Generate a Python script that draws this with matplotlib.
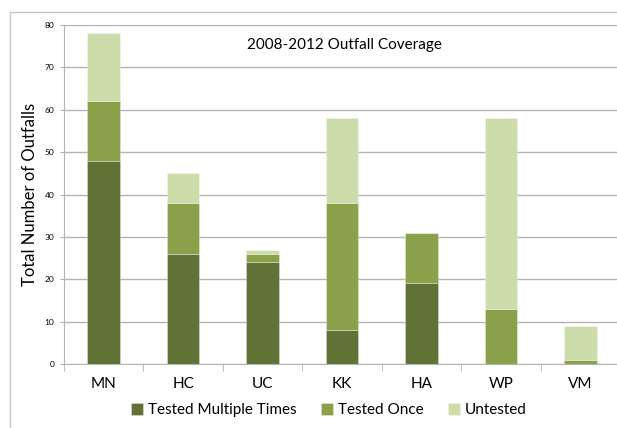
import numpy as np
import matplotlib
matplotlib.use("Agg")
import matplotlib.pyplot as plt
from matplotlib.patches import Rectangle

plt.rcParams['font.family'] = ['Lato', 'DejaVu Sans']

# outfall counts per watershed
sites = ['MN', 'HC', 'UC', 'KK', 'HA', 'WP', 'VM']
tested_multiple = [48, 26, 24, 8, 19, 0, 0]
tested_once = [14, 12, 2, 30, 12, 13, 1]
untested = [16, 7, 1, 20, 0, 45, 8]

c_multi = '#607236'
c_once = '#8aa04b'
c_untested = '#ccdcab'
grid_c = '#b4b4b4'
edge = (1, 1, 1, 0.35)

fig = plt.figure(figsize=(6.17, 4.28), dpi=100)

# outer chart frame (runs off the right and bottom edges)
fig.patches.append(Rectangle((10 / 617, -0.1), 1.2, 1 - 12 / 428 + 0.1,
                             transform=fig.transFigure, fill=False,
                             edgecolor='#c8c8c8', linewidth=1.0))

ax = fig.add_axes([64 / 617, 1 - 364 / 428, 556 / 617, 339 / 428])

x = np.arange(len(sites))
w = 0.41
m = np.array(tested_multiple)
o = np.array(tested_once)
u = np.array(untested)
ax.bar(x, m, w, color=c_multi, edgecolor=edge, linewidth=0.6,
       label='Tested Multiple Times', zorder=3)
ax.bar(x, o, w, bottom=m, color=c_once, edgecolor=edge, linewidth=0.6,
       label='Tested Once', zorder=3)
ax.bar(x, u, w, bottom=m + o, color=c_untested, edgecolor=edge, linewidth=0.6,
       label='Untested', zorder=3)

ax.set_xlim(-0.5, len(sites) - 0.5)
ax.set_ylim(0, 80)
ax.set_yticks(range(0, 81, 10))
ax.tick_params(axis='y', labelsize=6, length=3, color=grid_c, pad=4)
ax.yaxis.grid(True, color=grid_c, linewidth=1.0, zorder=0)

ax.set_xticks(x)
ax.set_xticklabels(sites, fontsize=11)
ax.tick_params(axis='x', length=0, pad=9)
ax.set_xticks(np.arange(-0.5, len(sites), 1), minor=True)
ax.tick_params(axis='x', which='minor', length=5, color=grid_c)

for s in ['top', 'right']:
    ax.spines[s].set_visible(False)
ax.spines['left'].set_color(grid_c)
ax.spines['bottom'].set_color(grid_c)
ax.spines['bottom'].set_zorder(4)

ax.set_ylabel('Total Number of Outfalls', fontsize=12, labelpad=5)
ax.text(0.505, 0.94, '2008-2012 Outfall Coverage', transform=ax.transAxes,
        ha='center', va='center', fontsize=11)

fig.legend(loc='center', bbox_to_anchor=(0.533, 0.042), ncol=3, frameon=False,
           fontsize=11, handlelength=0.8, handleheight=0.8, handletextpad=0.3,
           columnspacing=1.6)

fig.savefig('out.png', dpi=100)
